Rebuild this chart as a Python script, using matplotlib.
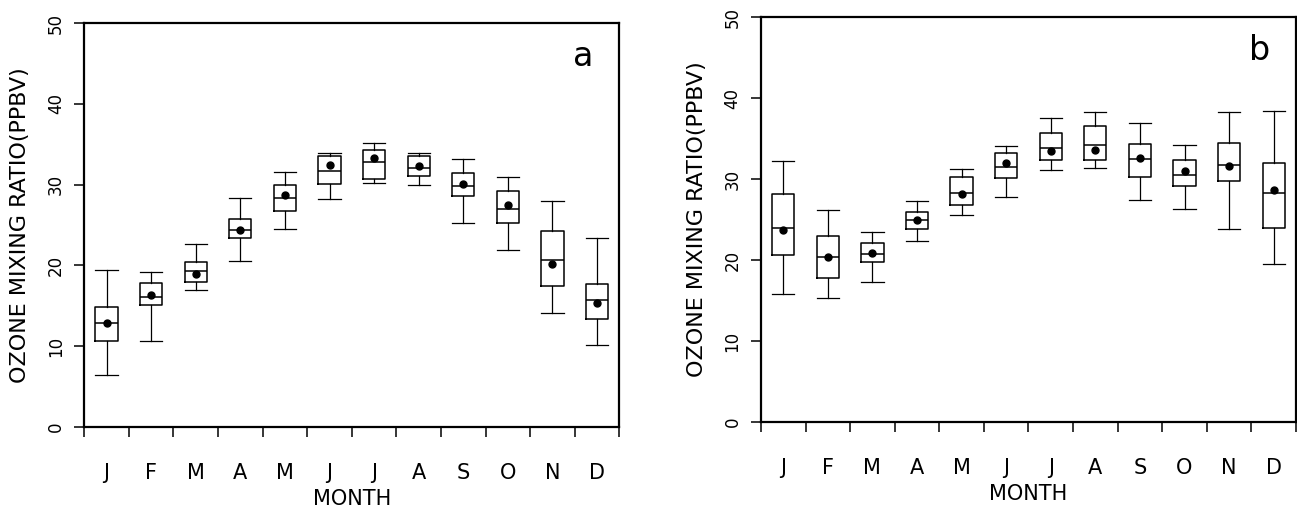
import matplotlib
matplotlib.use('Agg')
import matplotlib.pyplot as plt
import numpy as np

months = ['J', 'F', 'M', 'A', 'M', 'J', 'J', 'A', 'S', 'O', 'N', 'D']

# panel a: whisker low, Q1, median, Q3, whisker high, mean
a_low = [6.4, 10.6, 16.9, 20.5, 24.5, 28.2, 30.2, 29.95, 25.3, 21.9, 14.1, 10.1]
a_q1 = [10.6, 15.05, 17.95, 23.4, 26.7, 30.1, 30.65, 31.1, 28.6, 25.25, 17.5, 13.4]
a_med = [12.85, 16.05, 19.35, 24.4, 28.3, 31.7, 32.8, 32.1, 29.8, 27.0, 20.7, 15.7]
a_q3 = [14.85, 17.8, 20.4, 25.8, 30.0, 33.5, 34.3, 33.5, 31.4, 29.25, 24.3, 17.75]
a_high = [19.4, 19.2, 22.7, 28.3, 31.6, 33.9, 35.1, 33.95, 33.2, 30.9, 27.95, 23.35]
a_mean = [12.9, 16.4, 19.0, 24.4, 28.75, 32.4, 33.3, 32.3, 30.1, 27.5, 20.2, 15.4]

# panel b
b_low = [15.8, 15.3, 17.3, 22.3, 25.5, 27.8, 31.1, 31.3, 27.4, 26.3, 23.8, 19.5]
b_q1 = [20.6, 17.8, 19.7, 23.8, 26.8, 30.1, 32.4, 32.3, 30.3, 29.1, 29.8, 24.0]
b_med = [24.0, 20.4, 20.75, 24.9, 28.3, 31.5, 33.8, 34.2, 32.5, 30.5, 31.7, 28.3]
b_q3 = [28.2, 23.0, 22.05, 25.9, 30.25, 33.2, 35.65, 36.5, 34.3, 32.3, 34.5, 31.95]
b_high = [32.2, 26.2, 23.45, 27.3, 31.2, 34.1, 37.5, 38.3, 36.9, 34.2, 38.3, 38.4]
b_mean = [23.7, 20.4, 20.9, 25.0, 28.15, 31.95, 33.4, 33.6, 32.65, 30.95, 31.65, 28.65]


def make_stats(low, q1, med, q3, high, mean):
    stats = []
    for i in range(len(low)):
        stats.append({
            'whislo': low[i], 'q1': q1[i], 'med': med[i],
            'q3': q3[i], 'whishi': high[i], 'mean': mean[i],
            'fliers': []
        })
    return stats


def draw_panel(ax, stats, letter):
    pos = np.arange(len(stats)) + 0.5
    ax.bxp(
        stats,
        positions=pos,
        widths=0.5,
        capwidths=0.5,
        showmeans=True,
        showfliers=False,
        boxprops=dict(color='black', linewidth=1.1),
        medianprops=dict(color='black', linewidth=1.1),
        whiskerprops=dict(color='black', linewidth=0.9),
        capprops=dict(color='black', linewidth=0.9),
        meanprops=dict(marker='o', markerfacecolor='black',
                       markeredgecolor='black', markersize=5)
    )
    ax.set_xlim(0, 12)
    ax.set_ylim(0, 50)
    ax.set_yticks(np.arange(0, 51, 10))
    ax.set_xticks(np.arange(13))
    ax.set_xticklabels([])
    ax.set_xticks(pos, minor=True)
    ax.set_xticklabels(months, minor=True)
    ax.tick_params(axis='x', which='major', length=7, width=1.1, direction='out')
    ax.tick_params(axis='x', which='minor', length=0, pad=26, labelsize=15)
    ax.tick_params(axis='y', length=7, width=1.1, labelsize=12,
                   labelrotation=90, pad=7)
    for lab in ax.get_yticklabels():
        lab.set_va('center')
    for s in ax.spines.values():
        s.set_linewidth(1.6)
    ax.set_xlabel('MONTH', fontsize=15, labelpad=4)
    ax.set_ylabel('OZONE MIXING RATIO(PPBV)', fontsize=16, labelpad=12)
    ax.text(0.932, 0.893, letter, transform=ax.transAxes,
            fontsize=24, ha='center', va='baseline')


fig = plt.figure(figsize=(12.97, 5.08), dpi=100)
ax1 = fig.add_axes([0.065, 0.1594, 0.4125, 0.7953])
ax2 = fig.add_axes([0.5867, 0.1693, 0.4125, 0.7972])

draw_panel(ax1, make_stats(a_low, a_q1, a_med, a_q3, a_high, a_mean), 'a')
draw_panel(ax2, make_stats(b_low, b_q1, b_med, b_q3, b_high, b_mean), 'b')

fig.savefig('out.png', dpi=100)
plt.close()
